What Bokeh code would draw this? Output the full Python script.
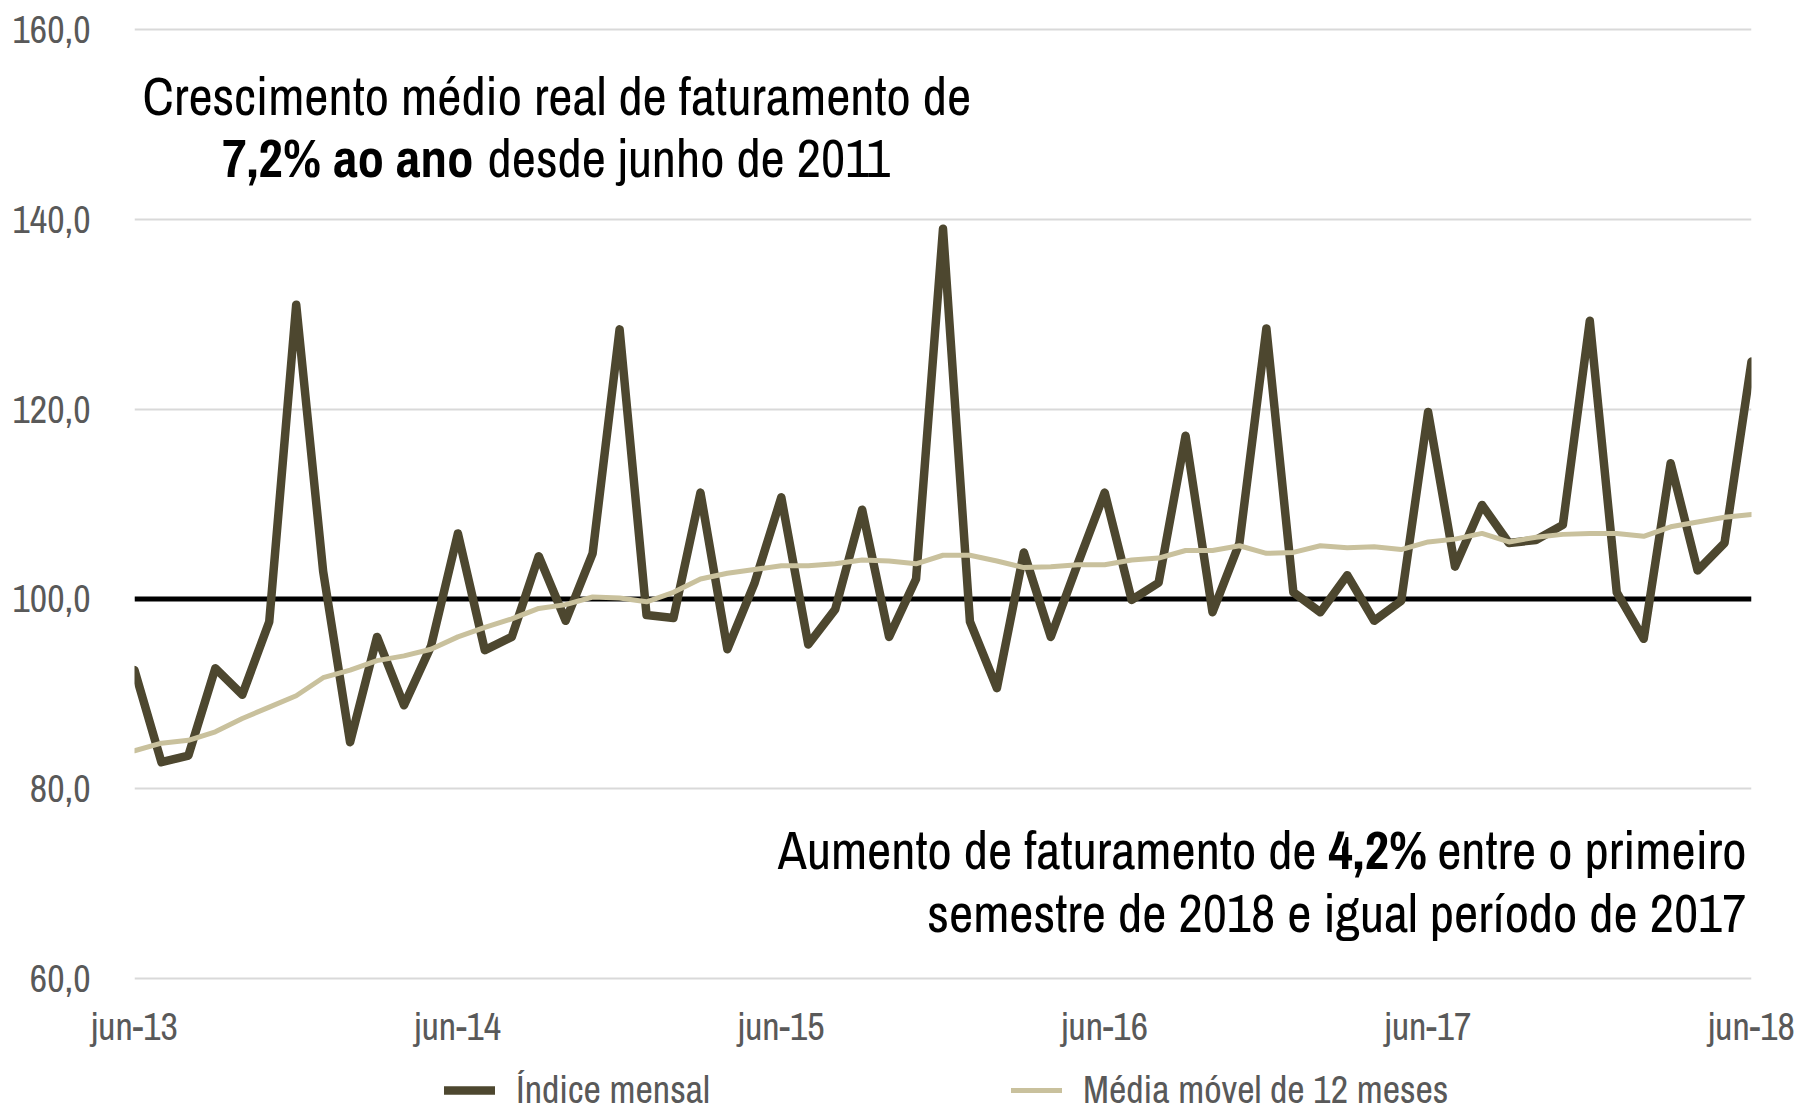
from bokeh.plotting import figure
from bokeh.layouts import column
from bokeh.models import (Range1d, FixedTicker, Span, Label, Legend, LegendItem)
from bokeh.embed import file_html
from bokeh.resources import INLINE

meses_idx = list(range(61))  # jun-13 .. jun-18, monthly
indice_mensal = [92.5, 82.8, 83.5, 92.7, 89.9, 97.6, 131.0, 102.9, 84.9, 96.0, 88.8, 95.0,
                 106.9, 94.6, 96.0, 104.5, 97.7, 104.8, 128.4, 98.3, 98.0, 111.2, 94.7, 101.6,
                 110.7, 95.2, 98.9, 109.4, 96.0, 102.1, 139.0, 97.6, 90.6, 104.9, 96.0, 103.7,
                 111.2, 99.9, 101.7, 117.2, 98.6, 105.9, 128.5, 100.7, 98.6, 102.5, 97.7, 99.8,
                 119.7, 103.4, 109.9, 105.9, 106.2, 107.8, 129.3, 100.7, 95.8, 114.3, 103.0, 105.9,
                 125.0]
media_movel = [84.0, 84.8, 85.1, 86.0, 87.4, 88.6, 89.8, 91.7, 92.5, 93.5, 94.0, 94.7,
               96.0, 97.0, 97.9, 99.0, 99.4, 100.2, 100.1, 99.7, 100.7, 102.1, 102.7, 103.1,
               103.5, 103.5, 103.7, 104.1, 104.0, 103.7, 104.6, 104.6, 104.0, 103.3, 103.4, 103.6,
               103.6, 104.1, 104.3, 105.1, 105.1, 105.6, 104.8, 104.9, 105.6, 105.4, 105.5, 105.2,
               106.0, 106.3, 106.9, 106.0, 106.5, 106.8, 106.9, 106.9, 106.6, 107.6, 108.1, 108.6,
               108.9]
x_ticks = [0, 12, 24, 36, 48, 60]
x_tick_labels = ["jun-13", "jun-14", "jun-15", "jun-16", "jun-17", "jun-18"]
y_ticks = [60, 80, 100, 120, 140, 160]
y_tick_labels = ["60,0", "80,0", "100,0", "120,0", "140,0", "160,0"]
referencia = 100
serie_nomes = ["Índice mensal", "Média móvel de 12 meses"]

FONT = "Archivo Narrow"
DARK = "#4D472F"
BEIGE = "#C9C19D"

p = figure(width=1800, height=1060, output_backend="svg", toolbar_location=None,
           x_range=Range1d(0, 60), y_range=Range1d(59.8, 160.2),
           min_border_left=134, min_border_right=49, min_border_top=27, min_border_bottom=80)
p.outline_line_color = None
p.xgrid.grid_line_color = None
p.ygrid.grid_line_color = "#D9D9D9"
p.ygrid.grid_line_width = 2

for ax in (p.xaxis, p.yaxis):
    ax.axis_line_color = None
    ax.major_tick_line_color = None
    ax.minor_tick_line_color = None
    ax.major_label_text_font = FONT
    ax.major_label_text_font_size = "38px"
    ax.major_label_text_color = "#595959"

p.xaxis.ticker = FixedTicker(ticks=x_ticks)
p.xaxis.major_label_overrides = dict(zip(x_ticks, x_tick_labels))
p.xaxis.major_label_standoff = 14
p.yaxis.ticker = FixedTicker(ticks=y_ticks)
p.yaxis.major_label_overrides = dict(zip(y_ticks, y_tick_labels))
p.yaxis.major_label_standoff = 38

p.add_layout(Span(location=referencia, dimension="width", line_color="black",
                  line_width=5, level="underlay"))

line_styles = [dict(line_color=DARK, line_width=8.5, line_join="round", line_cap="round"),
               dict(line_color=BEIGE, line_width=5, line_join="round", line_cap="round")]
r1 = p.line(meses_idx, indice_mensal, **line_styles[0])
r2 = p.line(meses_idx, media_movel, **line_styles[1])

# legend strip (separate canvas below the chart); its lines are off-view copies
p2 = figure(width=1800, height=44, output_backend="svg", toolbar_location=None,
            x_axis_type=None, y_axis_type=None,
            x_range=Range1d(1000, 1001), y_range=Range1d(1000, 1001),
            min_border_left=0, min_border_right=0, min_border_top=0, min_border_bottom=0)
p2.outline_line_color = None
p2.xgrid.visible = False
p2.ygrid.visible = False
l1 = p2.line(meses_idx, indice_mensal, **line_styles[0])
l2 = p2.line(meses_idx, media_movel, **line_styles[1])
legend = Legend(items=[LegendItem(label=serie_nomes[0], renderers=[l1]),
                       LegendItem(label=serie_nomes[1], renderers=[l2])],
                orientation="horizontal", location=(310, -11),
                glyph_width=51, label_standoff=21, spacing=301,
                padding=0, margin=0, border_line_color=None,
                background_fill_alpha=0,
                label_text_font=FONT, label_text_font_size="38px",
                label_text_color="#595959")
p2.add_layout(legend)

def lab(x, y, text, align="left", bold=False):
    p.add_layout(Label(x=x, y=y, text=text, text_font=FONT, text_font_size="53px",
                       text_color="black", text_align=align, text_baseline="alphabetic",
                       text_font_style="bold" if bold else "normal"))

lab(0.30, 153.0, "Crescimento médio real de faturamento de", align="left")
lab(12.58, 146.4, "7,2% ao ano", align="right", bold=True)
lab(13.10, 146.4, "desde junho de 2011", align="left")
lab(43.86, 73.5, "Aumento de faturamento de", align="right")
lab(44.30, 73.5, "4,2%", align="left", bold=True)
lab(59.81, 73.5, "entre o primeiro", align="right")
lab(59.81, 66.95, "semestre de 2018 e igual período de 2017", align="right")

open("out.html", "w").write(file_html(column(p, p2), INLINE))
